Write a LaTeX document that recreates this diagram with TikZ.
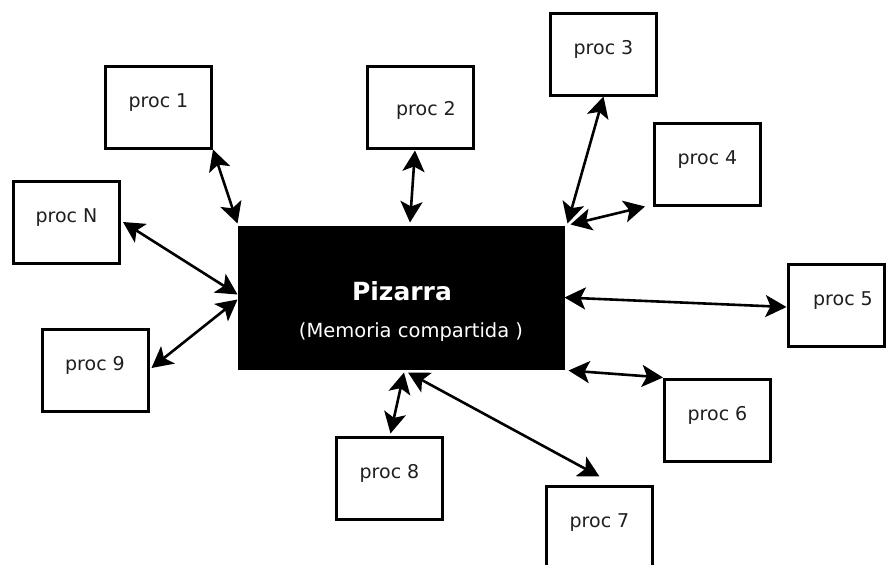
\documentclass[tikz,border=0pt]{standalone}
\usepackage{fontspec}
\setmainfont{DejaVu Sans}
\usetikzlibrary{arrows.meta,calc}

\begin{document}
\begin{tikzpicture}[x=1pt,y=-1pt,
  proc/.style={draw=black, line width=3pt, fill=white, inner sep=0pt,
    minimum width=106pt, minimum height=82pt,
    font=\fontsize{19}{22}\selectfont, text=black!88,
    text height=14pt, text depth=14pt},
  board/.style={draw=black, fill=black, line width=1pt, inner sep=0pt,
    minimum width=326pt, minimum height=143pt},
  boardtext/.style={text=white, inner sep=0pt},
  link/.style={line width=2.6pt,
    {Stealth[length=21pt,width=22pt,inset=5pt]}-{Stealth[length=21pt,width=22pt,inset=5pt]}}
]
  \useasboundingbox (0,0) rectangle (887,565);

  % shared blackboard
  \node[board] (pz) at (401,297.5) {};
  \node[boardtext, font=\fontsize{25}{29}\selectfont\bfseries] (pztitle)
    at ($(pz.center)+(1,-6)$) {Pizarra};
  \node[boardtext, font=\fontsize{19.5}{22}\selectfont] (pzsub)
    at ($(pz.center)+(10,35)$) {(Memoria compartida )};

  % processes
  \node[proc] (p1) at (158.5,107) {proc 1};
  \node[proc, text height=22pt, text depth=6pt] (p2) at (420,107) {\hspace*{12pt}proc 2};
  \node[proc] (p3) at (603.5,54) {proc 3};
  \node[proc] (p4) at (707.5,164) {proc 4};
  \node[proc] (pN) at (66.5,222) {proc N};
  \node[proc] (p9) at (95,370) {proc 9};
  \node[proc, minimum width=96pt] (p5) at (836,305) {\hspace*{14pt}proc 5};
  \node[proc] (p6) at (717.5,420) {proc 6};
  \node[proc] (p8) at (389.5,478) {proc 8};
  \node[proc] (p7) at (599.5,527) {proc 7};

  % two-way links between the board and each process
  \draw[link] (p1.south east) -- ($(pz.north west)+(0,-2)$);
  \draw[link] ($(p2.south)+(-5,1)$) -- ($(pz.north)+(9,-3)$);
  \draw[link] (p3.south) -- ($(pz.north east)+(3,-2)$);
  \draw[link] ($(pz.north east)+(6,-1)$) -- ($(p4.south west)+(-8,0)$);
  \draw[link] ($(pN.east)+(2,0)$) -- ($(pz.west)+(0,-3)$);
  \draw[link] ($(p9.east)+(2,-2)$) -- ($(pz.west)+(0,2)$);
  \draw[link] (pz.east) -- ($(p5.west)+(0,2)$);
  \draw[link] ($(pz.south east)+(4,1)$) -- (p6.north west);
  \draw[link] ($(pz.south)+(3,3)$) -- ($(p8.north)+(1,-2)$);
  \draw[link] ($(pz.south)+(7,3)$) -- ($(p7.north)+(0,-8)$);
\end{tikzpicture}
\end{document}
